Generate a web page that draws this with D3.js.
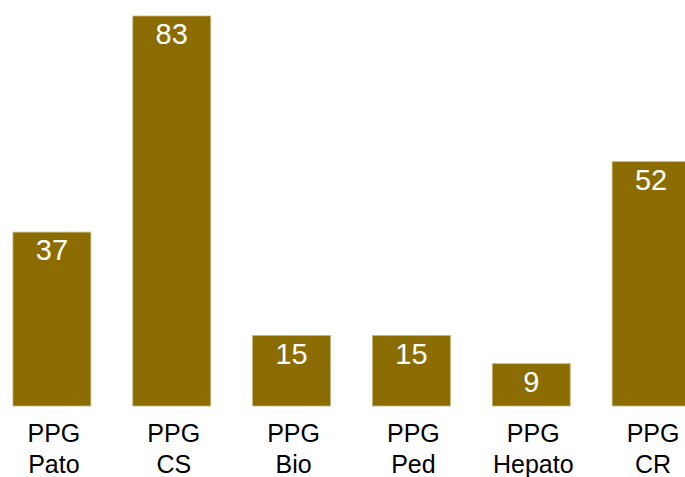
<!DOCTYPE html>
<html>
<head>
<meta charset="utf-8">
<script src="https://cdn.jsdelivr.net/npm/d3@7"></script>
<style>
html,body{margin:0;padding:0;background:#fff;}
svg{display:block;}
</style>
</head>
<body>
<svg id="chart" width="685" height="477"></svg>
<script>
const categories = ["PPG Pato", "PPG CS", "PPG Bio", "PPG Ped", "PPG Hepato", "PPG CR"];
const values = [37, 83, 15, 15, 9, 52];

const svg = d3.select("#chart");
const x = d3.scaleBand().domain(categories).range([-8, 711]).paddingInner(0.35).paddingOuter(0.175);
const y = d3.scaleLinear().domain([0, 83]).range([406, 16]);

const font = "Arial, 'Liberation Sans', sans-serif";

svg.selectAll("rect.bar").data(values).enter().append("rect")
  .attr("class", "bar")
  .attr("x", (d, i) => x(categories[i]))
  .attr("y", d => y(d))
  .attr("width", x.bandwidth())
  .attr("height", d => y(0) - y(d))
  .attr("fill", "#8b6c00")
  .attr("stroke", "#c9b37a")
  .attr("stroke-width", 0.8);

svg.selectAll("text.val").data(values).enter().append("text")
  .attr("class", "val")
  .attr("x", (d, i) => x(categories[i]) + x.bandwidth() / 2)
  .attr("y", d => y(d) + 28)
  .attr("text-anchor", "middle")
  .attr("font-family", font)
  .attr("font-size", 29)
  .attr("fill", "#fff")
  .text(d => d);

const lab = svg.selectAll("text.cat").data(categories).enter().append("text")
  .attr("class", "cat")
  .attr("text-anchor", "middle")
  .attr("font-family", font)
  .attr("font-size", 25)
  .attr("fill", "#000");
lab.each(function(d) {
  const parts = d.split(" ");
  const cx = x(d) + x.bandwidth() / 2 + 2;
  parts.forEach((p, j) => {
    d3.select(this).append("tspan").attr("x", cx).attr("y", 442 + j * 31).text(p);
  });
});
</script>
</body>
</html>
